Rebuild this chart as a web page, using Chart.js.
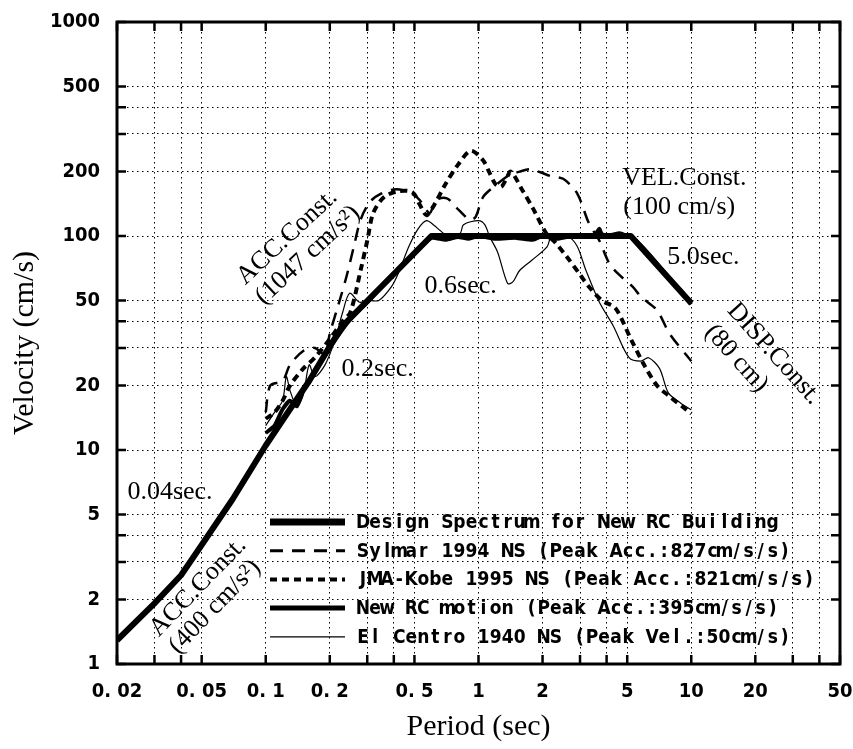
<!DOCTYPE html>
<html>
<head>
<meta charset="utf-8">
<title>Velocity response spectra</title>
<script src="https://cdn.jsdelivr.net/npm/chart.js@4.4.1/dist/chart.umd.min.js"></script>
<style>
  html, body { margin: 0; padding: 0; background: #fff; }
  #chart { display: block; }
</style>
</head>
<body>
<canvas id="chart" width="853" height="749"></canvas>
<script>
// period (sec) and velocity (cm/s)
const designT = [0.02, 0.03, 0.04, 0.05, 0.07, 0.1, 0.13, 0.16, 0.2, 0.23, 0.6, 5.2, 10];
const designV = [1.29, 1.92, 2.6, 3.6, 5.9, 10.5, 15.5, 21, 30.5, 38, 100, 100, 48.5];

const sylmarT = [0.1, 0.105, 0.12, 0.13, 0.15, 0.17, 0.19, 0.2, 0.22, 0.24, 0.26, 0.28, 0.31, 0.35, 0.4, 0.45, 0.5, 0.53, 0.59, 0.63, 0.71, 0.78, 0.91, 0.97, 1.05, 1.2, 1.4, 1.56, 1.74, 1.94, 2.2, 2.5, 2.9, 3.3, 3.7, 4.1, 4.5, 5.3, 5.8, 6.9, 7.9, 10];
const sylmarV = [15, 20, 21, 25, 29, 30, 28, 35, 48, 65, 90, 120, 145, 158, 165, 163, 155, 147, 128, 147, 150, 137, 119, 123, 152, 172, 193, 200, 205, 199, 190, 185, 159, 115, 95, 75, 67, 58, 52, 45, 35, 26];

const kobeT = [0.1, 0.11, 0.12, 0.13, 0.15, 0.17, 0.2, 0.23, 0.25, 0.28, 0.3, 0.32, 0.36, 0.42, 0.49, 0.53, 0.57, 0.62, 0.7, 0.8, 0.92, 1.05, 1.12, 1.2, 1.28, 1.35, 1.42, 1.6, 1.8, 2.08, 2.3, 2.6, 3.0, 3.3, 3.8, 4.4, 5.2, 6.0, 6.9, 7.8, 9.5, 10];
const kobeV = [14, 15, 17, 20, 24, 27, 33, 40, 44, 70, 95, 128, 152, 162, 160, 140, 125, 140, 175, 215, 250, 226, 200, 175, 170, 185, 200, 165, 135, 103, 93, 80, 66, 58, 50, 46, 33, 25, 20, 18, 15.4, 14.8];

const rcT = [0.1, 0.11, 0.12, 0.13, 0.14, 0.15, 0.17, 0.2, 0.25, 0.3, 0.35, 0.4, 0.5, 0.6, 0.7, 0.8, 0.9, 1, 1.2, 1.5, 1.8, 2, 2.3, 2.6, 3, 3.4, 3.6, 3.7, 3.8, 4.2, 4.6, 5, 5.3, 6, 7, 8, 9, 10];
const rcV = [12, 13, 15.5, 17, 16, 19, 23, 30, 41, 49, 58, 66, 83, 98, 96, 99, 97, 100, 97, 98, 96, 100, 97, 99, 100, 99, 104, 108, 102, 101, 103, 100, 98, 87, 73, 62, 55, 48];

const centroT = [0.1, 0.11, 0.12, 0.125, 0.13, 0.14, 0.15, 0.16, 0.17, 0.19, 0.21, 0.23, 0.248, 0.276, 0.3, 0.34, 0.39, 0.42, 0.47, 0.52, 0.57, 0.62, 0.66, 0.72, 0.82, 0.85, 1.0, 1.07, 1.13, 1.23, 1.37, 1.45, 1.56, 1.78, 2.1, 2.2, 2.6, 2.9, 3.2, 3.7, 4.3, 5.1, 5.8, 6.3, 7.1, 7.8, 8.9, 10];
const centroV = [13, 15, 17, 22, 19, 16, 18, 25, 22, 25, 32, 44, 54, 49, 50, 50, 58, 67, 89, 108, 118, 112, 106, 100, 103, 113, 118, 113, 99, 84, 60, 61, 69, 77, 89, 99, 100, 90, 69, 49, 38, 27, 26, 27, 24, 18.5, 16.6, 15.4];

const seriesNames = [
  'Design Spectrum for New RC Building',
  'Sylmar 1994 NS (Peak Acc.:827cm/s/s)',
  'JMA-Kobe 1995 NS (Peak Acc.:821cm/s/s)',
  'New RC motion (Peak Acc.:395cm/s/s)',
  'El Centro 1940 NS (Peak Vel.:50cm/s)'
];

// grid / tick positions and labels
const xGridValues = [0.02, 0.03, 0.04, 0.05, 0.1, 0.2, 0.3, 0.4, 0.5, 1, 2, 3, 4, 5, 10, 20, 30, 40, 50];
const xLabelValues = [0.02, 0.05, 0.1, 0.2, 0.5, 1, 2, 5, 10, 20, 50];
const xLabelTexts = ['0. 02', '0. 05', '0. 1', '0. 2', '0. 5', '1', '2', '5', '10', '20', '50'];
const yGridValues = [1, 2, 3, 4, 5, 10, 20, 30, 40, 50, 100, 200, 300, 400, 500, 1000];
const yLabelValues = [1, 2, 5, 10, 20, 50, 100, 200, 500, 1000];
const yLabelTexts = ['1', '2', '5', '10', '20', '50', '100', '200', '500', '1000'];

// text notes, anchored in data units (period, velocity)
const notes = [
  { text: '0.04sec.', t: 0.0355, v: 6.37, rot: 0 },
  { text: 'ACC.Const.', t: 0.048, v: 2.29, rot: -46 },
  { text: '(400 cm/s\u00b2)', t: 0.0577, v: 1.85, rot: -46 },
  { text: 'ACC.Const.', t: 0.126, v: 98.9, rot: -43 },
  { text: '(1047 cm/s\u00b2)', t: 0.158, v: 81.5, rot: -43 },
  { text: '0.2sec.', t: 0.336, v: 23.9, rot: 0 },
  { text: '0.6sec.', t: 0.824, v: 58.4, rot: 0 },
  { text: 'VEL.Const.', t: 9.28, v: 186.7, rot: 0 },
  { text: '(100 cm/s)', t: 8.78, v: 136.7, rot: 0 },
  { text: '5.0sec.', t: 11.4, v: 79.8, rot: 0 },
  { text: 'DISP.Const.', t: 24.5, v: 28.2, rot: 48 },
  { text: '(80 cm)', t: 16.3, v: 26.8, rot: 48 }
];

function toPoints(ts, vs) {
  return ts.map((t, i) => ({ x: t, y: vs[i] }));
}

function noPadding(s) {
  s.paddingLeft = 0; s.paddingRight = 0; s.paddingTop = 0; s.paddingBottom = 0;
}

const tickFont = { family: '"DejaVu Sans Condensed", "DejaVu Sans", sans-serif', size: 20, weight: 'bold' };
const titleFont = { family: '"Liberation Serif", serif', size: 30 };

const frameAndNotes = {
  id: 'frameAndNotes',
  afterDraw(chart) {
    const { ctx, chartArea: a, scales: { x, y } } = chart;
    ctx.save();
    ctx.strokeStyle = '#000';
    ctx.fillStyle = '#000';
    ctx.setLineDash([]);

    // inward tick marks
    ctx.lineWidth = 2.5;
    ctx.beginPath();
    xGridValues.forEach(v => {
      const px = x.getPixelForValue(v);
      ctx.moveTo(px, a.bottom); ctx.lineTo(px, a.bottom - 9);
      ctx.moveTo(px, a.top); ctx.lineTo(px, a.top + 9);
    });
    yGridValues.forEach(v => {
      const py = y.getPixelForValue(v);
      ctx.moveTo(a.left, py); ctx.lineTo(a.left + 9, py);
      ctx.moveTo(a.right, py); ctx.lineTo(a.right - 9, py);
    });
    ctx.stroke();

    ctx.lineWidth = 3;
    ctx.strokeRect(a.left, a.top, a.right - a.left, a.bottom - a.top);

    // annotations
    ctx.font = '26px "Liberation Serif", serif';
    ctx.textAlign = 'center';
    ctx.textBaseline = 'middle';
    notes.forEach(n => {
      ctx.save();
      ctx.translate(x.getPixelForValue(n.t), y.getPixelForValue(n.v));
      ctx.rotate(n.rot * Math.PI / 180);
      ctx.fillText(n.text, 0, 0);
      ctx.restore();
    });

    // legend inside the plot
    const lineX0 = a.left + 153, lineX1 = a.left + 228, textX = a.left + 240;
    const rowY0 = a.top + 500, rowStep = 28.7, pitch = 12.05;
    ctx.font = 'bold 19px "DejaVu Sans Condensed", "DejaVu Sans", sans-serif';
    chart.data.datasets.forEach((ds, i) => {
      const ry = rowY0 + i * rowStep;
      ctx.lineWidth = ds.legendWidth;
      ctx.setLineDash(ds.borderDash || []);
      ctx.lineCap = 'butt';
      ctx.beginPath();
      ctx.moveTo(lineX0, ry); ctx.lineTo(lineX1, ry);
      ctx.stroke();
      ctx.setLineDash([]);
      [...ds.label].forEach((ch, k) => {
        ctx.fillText(ch, textX + pitch * k + pitch / 2, ry + 1);
      });
    });
    ctx.restore();
  }
};

new Chart(document.getElementById('chart'), {
  type: 'line',
  data: {
    datasets: [
      { label: seriesNames[0], data: toPoints(designT, designV), borderColor: '#000', borderWidth: 6, legendWidth: 7, tension: 0, borderJoinStyle: 'round' },
      { label: seriesNames[1], data: toPoints(sylmarT, sylmarV), borderColor: '#000', borderWidth: 2.5, legendWidth: 3, borderDash: [13, 9], tension: 0.3 },
      { label: seriesNames[2], data: toPoints(kobeT, kobeV), borderColor: '#000', borderWidth: 4, legendWidth: 4, borderDash: [7, 5], tension: 0.3 },
      { label: seriesNames[3], data: toPoints(rcT, rcV), borderColor: '#000', borderWidth: 4, legendWidth: 5, tension: 0.2 },
      { label: seriesNames[4], data: toPoints(centroT, centroV), borderColor: '#000', borderWidth: 1.2, legendWidth: 1.2, tension: 0.3 }
    ]
  },
  options: {
    responsive: false,
    devicePixelRatio: 1,
    animation: false,
    elements: { point: { radius: 0 } },
    layout: { padding: { left: 0, right: 13, top: 22, bottom: 0 } },
    plugins: { legend: { display: false }, tooltip: { enabled: false } },
    scales: {
      x: {
        type: 'logarithmic',
        min: 0.02,
        max: 50,
        afterBuildTicks: s => { s.ticks = xGridValues.map(v => ({ value: v })); },
        afterFit: s => { s.height = 85; noPadding(s); },
        ticks: {
          autoSkip: false,
          maxRotation: 0,
          padding: 16,
          color: '#000',
          font: tickFont,
          callback: v => { const i = xLabelValues.indexOf(v); return i < 0 ? '' : xLabelTexts[i]; }
        },
        grid: { color: '#000', lineWidth: 1, drawTicks: false },
        border: { display: false, dash: [1.5, 3.5] },
        title: { display: true, text: 'Period (sec)', color: '#000', font: titleFont, padding: { top: 0, bottom: 4 } }
      },
      y: {
        type: 'logarithmic',
        min: 1,
        max: 1000,
        afterBuildTicks: s => { s.ticks = yGridValues.map(v => ({ value: v })); },
        afterFit: s => { s.width = 117; noPadding(s); },
        ticks: {
          autoSkip: false,
          padding: 17,
          color: '#000',
          font: tickFont,
          callback: v => { const i = yLabelValues.indexOf(v); return i < 0 ? '' : yLabelTexts[i]; }
        },
        grid: { color: '#000', lineWidth: 1, drawTicks: false },
        border: { display: false, dash: [1.5, 3.5] },
        title: { display: true, text: 'Velocity (cm/s)', color: '#000', font: titleFont, padding: { top: 7, bottom: 0 } }
      }
    }
  },
  plugins: [frameAndNotes]
});
</script>
</body>
</html>
